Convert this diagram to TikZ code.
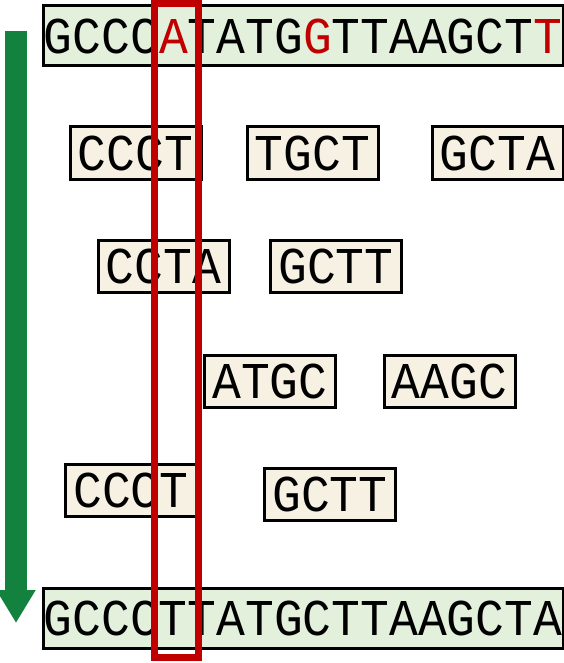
\documentclass[tikz,border=0pt]{standalone}
\usepackage{fontspec}
\newfontfamily\seqfont[FakeStretch=0.93]{Liberation Mono}
\definecolor{readfill}{RGB}{246, 241, 226}
\definecolor{seqfill}{RGB}{226, 240, 220}
\definecolor{mutred}{RGB}{192, 0, 0}
\definecolor{timegreen}{RGB}{18, 130, 62}
\usetikzlibrary{arrows.meta, positioning}

\begin{document}
\begin{tikzpicture}[
                x=1pt, y=-1pt,
                seq/.style={
                    rectangle,
                    draw=black,
                    fill=seqfill,
                    line width=3pt,
                    inner sep=0pt,
                    minimum width=520pt,
                    minimum height=60pt,
                    text centered,
                    font=\seqfont\fontsize{51.6pt}{52pt}\selectfont
                },
                read/.style={
                    seq,
                    fill=readfill,
                    minimum width=131pt,
                    minimum height=52pt
                },
                timearrow/.style={-{Triangle[width=37pt,length=33pt]},
                    line width=22pt, timegreen},
                window/.style={draw=mutred, line width=7pt}
            ]
            \useasboundingbox (0,0) rectangle (564,663);

            % Reference and result
            \node (top) [seq] at (303,36)
            {GCCC\textcolor{mutred}{A}TATG\textcolor{mutred}{G}TTAAGCT\textcolor{mutred}{T}};

            \node (bottom) [seq] at (303,618) {GCCCTTATGCTTAAGCTA};

            % Reads, row 1
            \node (r1a) [read] at (135.5,153) {CCCT};
            \node (r1b) [read] at (312.5,153) {TGCT};
            \node (r1c) [read] at (497.5,153) {GCTA};

            % Reads, row 2
            \node (r2a) [read] at (163.5,266.5) {CCTA};
            \node (r2b) [read] at (336,266.5) {GCTT};

            % Reads, row 3
            \node (r3a) [read] at (270,381.5) {ATGC};
            \node (r3b) [read] at (449.5,381.5) {AAGC};

            % Reads, row 4
            \node (r4a) [read] at (131,490) {CCCT};
            \node (r4b) [read] at (330,494.5) {GCTT};

            % Arrow and window
            \coordinate (arrtop) at (16,31);
            \coordinate (arrbot) at (16,623);
            \draw [timearrow] (arrtop) -- (arrbot);

            \coordinate (winA) at (154.5,3.5);
            \coordinate (winB) at (198.5,657.5);
            \draw [window] (winA) rectangle (winB);

            \end{tikzpicture}
\end{document}
